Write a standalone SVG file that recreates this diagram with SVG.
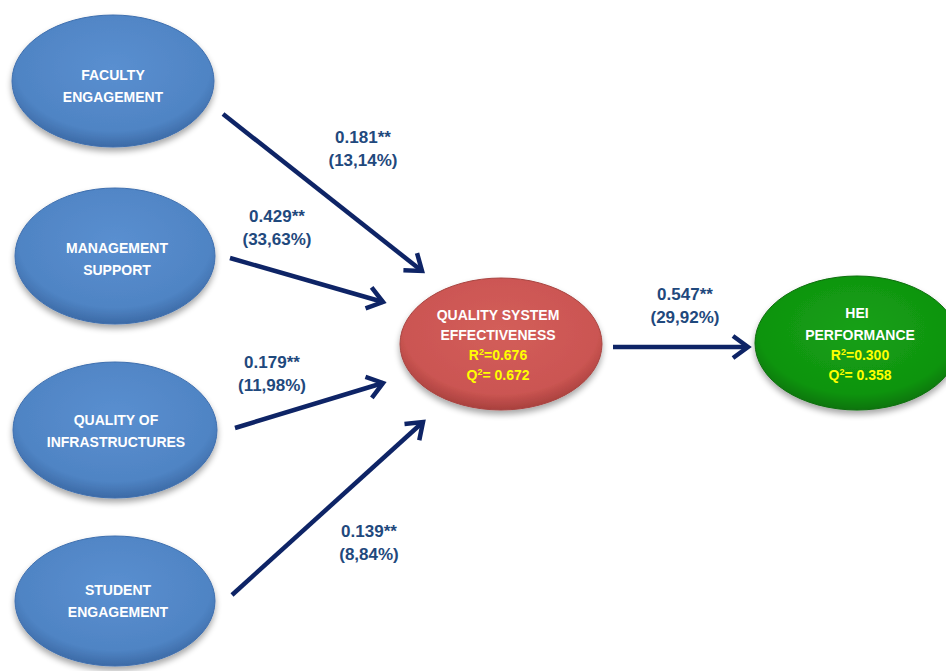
<svg xmlns="http://www.w3.org/2000/svg" width="946" height="671" viewBox="0 0 946 671">
<style>
.nt{font-family:"Liberation Sans",Arial,sans-serif;font-weight:bold;font-size:14px;fill:#ffffff;text-anchor:middle}
.yt{fill:#ffff00}
.lb{font-family:"Liberation Sans",Arial,sans-serif;font-weight:bold;font-size:17px;fill:#1f497d;text-anchor:middle}
.ar{stroke:#0e2466;stroke-width:4.5;fill:none;marker-end:url(#chev)}
</style>
<defs>
<radialGradient id="gb" cx="50%" cy="40%" r="60%">
<stop offset="0" stop-color="#5a8fd0"/>
<stop offset="0.8" stop-color="#4f84c4"/>
<stop offset="1" stop-color="#3c6aa6"/>
</radialGradient>
<radialGradient id="gr" cx="50%" cy="40%" r="60%">
<stop offset="0" stop-color="#d35e5a"/>
<stop offset="0.8" stop-color="#cb5552"/>
<stop offset="1" stop-color="#a8403d"/>
</radialGradient>
<radialGradient id="gg" cx="50%" cy="40%" r="60%">
<stop offset="0" stop-color="#16a016"/>
<stop offset="0.8" stop-color="#0f940f"/>
<stop offset="1" stop-color="#0a740a"/>
</radialGradient>
<filter id="sh" x="-20%" y="-20%" width="140%" height="150%">
<feGaussianBlur in="SourceAlpha" stdDeviation="3"/>
<feOffset dx="0" dy="4" result="b"/>
<feComponentTransfer><feFuncA type="linear" slope="0.35"/></feComponentTransfer>
<feMerge><feMergeNode/><feMergeNode in="SourceGraphic"/></feMerge>
</filter>
<marker id="chev" markerUnits="userSpaceOnUse" viewBox="-20 -14 24 28" markerWidth="24" markerHeight="28" refX="0" refY="0" orient="auto">
<path d="M-15,-11 L0,0 L-15,11" fill="none" stroke="#0e2466" stroke-width="4.5" stroke-linejoin="miter"/>
</marker>
</defs>

<g id="connectors">
<line class="ar" x1="223" y1="114" x2="422" y2="271"/>
<line class="ar" x1="230" y1="258" x2="383" y2="302"/>
<line class="ar" x1="235" y1="428" x2="383" y2="383"/>
<line class="ar" x1="232" y1="595" x2="423" y2="422"/>
<line class="ar" x1="613" y1="347" x2="748" y2="347"/>
<text class="lb" x="363" y="143">0.181**</text>
<text class="lb" x="363" y="166">(13,14%)</text>
<text class="lb" x="277" y="222">0.429**</text>
<text class="lb" x="277" y="245">(33,63%)</text>
<text class="lb" x="272" y="368">0.179**</text>
<text class="lb" x="272" y="391">(11,98%)</text>
<text class="lb" x="369" y="537">0.139**</text>
<text class="lb" x="369" y="560">(8,84%)</text>
<text class="lb" x="685" y="300">0.547**</text>
<text class="lb" x="685" y="323">(29,92%)</text>
</g>

<g id="faculty">
<ellipse cx="113" cy="81" rx="101" ry="66" fill="url(#gb)" stroke="#3f6fae" stroke-width="1" filter="url(#sh)"/>
<text class="nt" x="113" y="80">FACULTY</text>
<text class="nt" x="113" y="102">ENGAGEMENT</text>
</g>
<g id="management">
<ellipse cx="115" cy="256" rx="100" ry="68" fill="url(#gb)" stroke="#3f6fae" stroke-width="1" filter="url(#sh)"/>
<text class="nt" x="117" y="253">MANAGEMENT</text>
<text class="nt" x="117" y="275">SUPPORT</text>
</g>
<g id="infrastructures">
<ellipse cx="115" cy="430" rx="102" ry="68" fill="url(#gb)" stroke="#3f6fae" stroke-width="1" filter="url(#sh)"/>
<text class="nt" x="116" y="425">QUALITY OF</text>
<text class="nt" x="116" y="447">INFRASTRUCTURES</text>
</g>
<g id="student">
<ellipse cx="115" cy="601" rx="100" ry="65" fill="url(#gb)" stroke="#3f6fae" stroke-width="1" filter="url(#sh)"/>
<text class="nt" x="118" y="595">STUDENT</text>
<text class="nt" x="118" y="617">ENGAGEMENT</text>
</g>
<g id="qse">
<ellipse cx="501" cy="344" rx="101" ry="66" fill="url(#gr)" stroke="#a84542" stroke-width="1" filter="url(#sh)"/>
<text class="nt" x="498" y="320">QUALITY SYSTEM</text>
<text class="nt" x="498" y="340">EFFECTIVENESS</text>
<text class="nt yt" x="498" y="360">R<tspan font-size="9" dy="-5">2</tspan><tspan dy="5">=0.676</tspan></text>
<text class="nt yt" x="498" y="380">Q<tspan font-size="9" dy="-5">2</tspan><tspan dy="5">= 0.672</tspan></text>
</g>
<g id="hei">
<ellipse cx="857" cy="343" rx="102" ry="67" fill="url(#gg)" stroke="#0b6e0b" stroke-width="1" filter="url(#sh)"/>
<text class="nt" x="857" y="318">HEI</text>
<text class="nt" x="860" y="340">PERFORMANCE</text>
<text class="nt yt" x="860" y="360">R<tspan font-size="9" dy="-5">2</tspan><tspan dy="5">=0.300</tspan></text>
<text class="nt yt" x="860" y="380">Q<tspan font-size="9" dy="-5">2</tspan><tspan dy="5">= 0.358</tspan></text>
</g>
</svg>
